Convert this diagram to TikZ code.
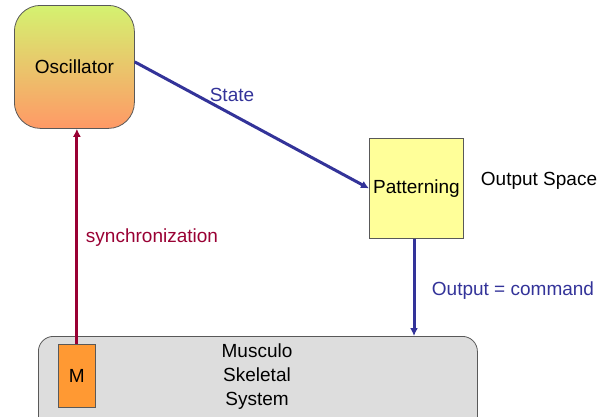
\documentclass[tikz,border=0pt]{standalone}
\usepackage{fontspec}
\setmainfont{Liberation Sans}
\usetikzlibrary{arrows.meta}
\definecolor{cblue}{HTML}{333399}
\definecolor{cred}{HTML}{990033}
\definecolor{pyellow}{HTML}{FFFF99}
\definecolor{morange}{HTML}{FF9933}
\definecolor{sysgray}{HTML}{DDDDDD}
\definecolor{osctop}{HTML}{D4F270}
\definecolor{oscbot}{HTML}{FF9966}
\begin{document}
\begin{tikzpicture}[x=1pt,y=-1pt,
  txt/.style={font=\fontsize{19}{24}\selectfont, inner sep=0pt},
  box/.style={draw=black!65, line width=0.8pt},
  conn/.style={line width=3pt, -{Latex[length=8pt,width=8pt]}},
]
\useasboundingbox (0,0) rectangle (603,416);
\clip (0,0) rectangle (603,416);
% Oscillator
\node[box, rounded corners=26pt, top color=osctop, bottom color=oscbot,
  minimum width=120pt, minimum height=123pt, inner sep=0pt, anchor=north west]
  (osc) at (14,5) {};
\node[txt] (osctxt) at (osc.center) {Oscillator};
% Patterning
\node[box, fill=pyellow, minimum width=94pt, minimum height=100pt, inner sep=0pt, anchor=north west]
  (pat) at (369,138) {};
\node[txt] (pattxt) at (pat.center) {Patterning};
\node[txt] (outspace) at (539,181) {Output Space};
% Musculo Skeletal System
\node[box, rounded corners=15pt, fill=sysgray, minimum width=439pt, minimum height=100pt, inner sep=0pt, anchor=north west]
  (sys) at (38,336) {};
\node[txt, align=center] (systxt) at (257,377) {Musculo\\Skeletal\\System};
\node[box, fill=morange, minimum width=37pt, minimum height=63pt, inner sep=0pt, anchor=north west]
  (m) at (58,344) {};
\node[txt] (mtxt) at (m.center) {M};
% connectors
\coordinate (sysin) at (414,336);
\draw[conn, cblue] ([yshift=5pt]osc.east) -- (pat.west);
\draw[conn, cblue] (pat.south -| sysin) -- (sysin);
\draw[conn, cred] (m.north) -- (osc.south -| m.north);
% labels
\node[txt, text=cblue] (state) at (232,95) {State};
\node[txt, text=cred] (sync) at (152,238) {synchronization};
\node[txt, text=cblue] (cmd) at (513,291) {Output = command};
\end{tikzpicture}
\end{document}
